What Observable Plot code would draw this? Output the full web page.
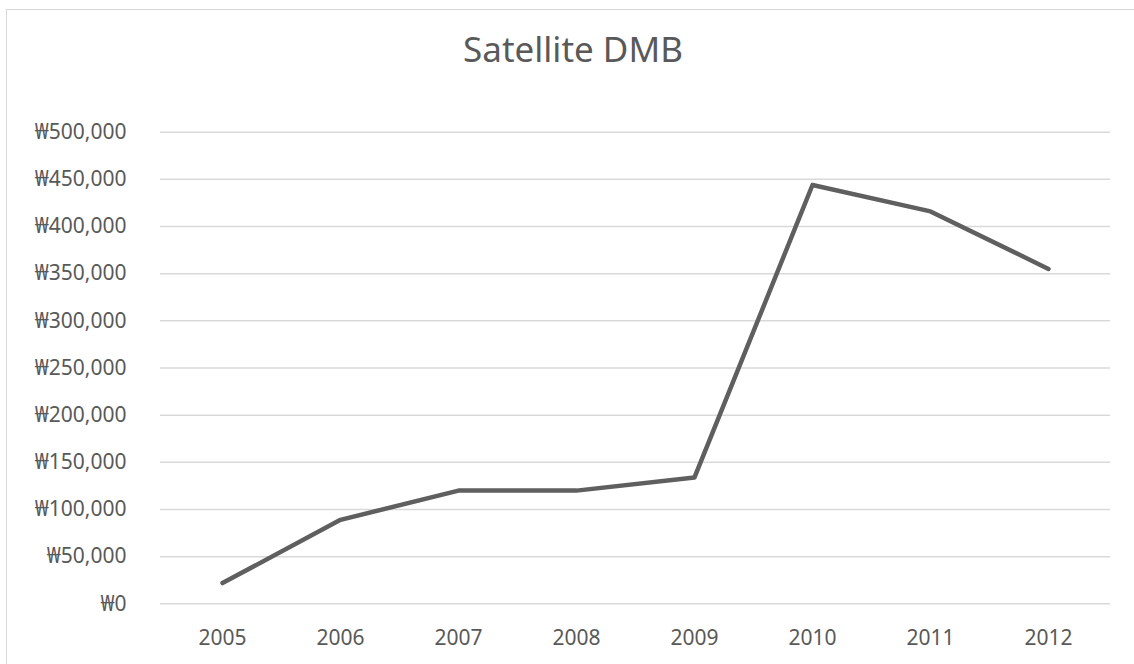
<!DOCTYPE html>
<html>
<head>
<meta charset="utf-8">
<script src="https://cdn.jsdelivr.net/npm/d3@7"></script>
<script src="https://cdn.jsdelivr.net/npm/@observablehq/plot@0.6"></script>
<style>
  html, body { margin: 0; padding: 0; background: #fff; overflow: hidden; }
  #page { position: relative; width: 1134px; height: 664px; overflow: hidden; }
  #frame { position: absolute; left: 6px; top: 9px; width: 1200px; height: 700px;
           border-left: 1.5px solid #d9d9d9; border-top: 1.5px solid #d9d9d9; }
  #title { position: absolute; left: 0; width: 1146px; top: 29px; text-align: center;
           font-family: "Noto Sans", "Open Sans", sans-serif; font-size: 35px;
           color: #595959; line-height: 40px; }
  #chart { position: absolute; left: 0; top: 0; }
</style>
</head>
<body>
<div id="page">
  <div id="frame"></div>
  <div id="chart"></div>
  <div id="title">Satellite DMB</div>
</div>
<script>
const years = ["2005", "2006", "2007", "2008", "2009", "2010", "2011", "2012"];
const values = [22000, 89000, 120000, 120000, 134000, 444000, 416000, 355000];
const yTicks = [0, 50000, 100000, 150000, 200000, 250000, 300000, 350000, 400000, 450000, 500000];

const data = years.map((y, i) => ({year: y, value: values[i]}));
const fmt = d => "₩" + d3.format(",")(d);

const plot = Plot.plot({
  width: 1134,
  height: 664,
  marginLeft: 160,
  marginRight: 24,
  marginTop: 131.7,
  marginBottom: 60.7,
  style: {fontFamily: "'Noto Sans', 'Open Sans', sans-serif", fontSize: "21px", color: "#595959", background: "transparent"},
  x: {type: "point", domain: years, padding: 0.5, label: null},
  y: {domain: [0, 500000], label: null},
  marks: [
    Plot.gridY(yTicks, {stroke: "#d9d9d9", strokeOpacity: 1, strokeWidth: 1.5}),
    Plot.axisY(yTicks, {tickSize: 0, tickPadding: 34, tickFormat: fmt, label: null, fill: "#595959"}),
    Plot.axisX({tickSize: 0, tickPadding: 26, label: null, fill: "#595959"}),
    Plot.lineY(data, {x: "year", y: "value", stroke: "#5f5f5f", strokeWidth: 4.5, strokeLinecap: "round", strokeLinejoin: "round"})
  ]
});
document.getElementById("chart").appendChild(plot);
</script>
</body>
</html>
